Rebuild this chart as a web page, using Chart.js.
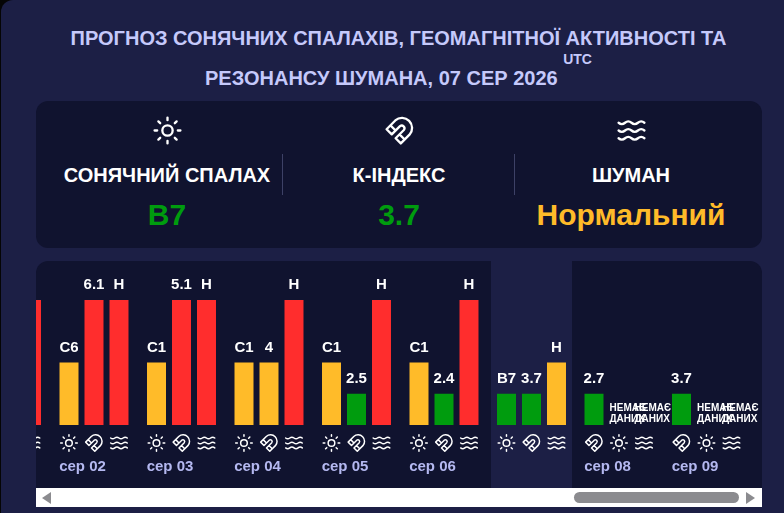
<!DOCTYPE html>
<html>
<head>
<meta charset="utf-8">
<script src="https://cdn.jsdelivr.net/npm/chart.js@4/dist/chart.umd.min.js"></script>
<style>
    html, body { margin: 0; padding: 0; background: #050505; }
    body { width: 784px; height: 513px; overflow: hidden; font-family: "Liberation Sans", Arial, sans-serif; }
    .card { position: absolute; left: 1px; top: 0; width: 783px; height: 513px; background: #1c1f45; border-radius: 12px 0 0 0; }
    .title { position: absolute; left: -1px; top: 18px; width: 797px; text-align: center; color: #c5c9fb; font-size: 20px; font-weight: bold; line-height: 40px; }
    .utc { position: relative; top: -21px; font-size: 14px; line-height: 0; }
    .summary { position: absolute; left: 35px; top: 101px; width: 726px; height: 147px; background: #10132f; border-radius: 12px; }
    .col { position: absolute; top: 0; width: 232px; text-align: center; }
    .col svg { position: absolute; left: 100.5px; top: 13.5px; }
    .col .name { position: absolute; left: 0; width: 100%; top: 63px; color: #fff; font-size: 20px; font-weight: bold; }
    .col .value { position: absolute; left: 0; width: 100%; top: 97px; font-size: 30px; font-weight: bold; }
    .sep { position: absolute; top: 53px; width: 1px; height: 41px; background: #3d4166; }
    .panel { position: absolute; left: 35px; top: 261px; width: 726px; height: 227px; background: #10132f; border-radius: 12px 12px 0 0; overflow: hidden; }
    canvas { position: absolute; left: -74px; top: 0; }
    .track { position: absolute; left: 35px; top: 488px; width: 726px; height: 19px; background: #fff; }
    .thumb { position: absolute; left: 538px; top: 4px; width: 165px; height: 11px; background: #8b8b8f; border-radius: 6px; }
    .arrow { position: absolute; top: 4px; width: 0; height: 0; border-top: 6px solid transparent; border-bottom: 6px solid transparent; }
    .arrow.l { left: 6px; border-right: 9px solid #8b8b8f; }
    .arrow.r { left: 710px; border-left: 9px solid #8b8b8f; }
</style>
</head>
<body>
<div class="card">
    <div class="title">ПРОГНОЗ СОНЯЧНИХ СПАЛАХІВ, ГЕОМАГНІТНОЇ АКТИВНОСТІ ТА<br>РЕЗОНАНСУ ШУМАНА, 07 СЕР 2026 <span class="utc">UTC</span></div>
    <div class="summary">
        <div class="col" style="left:15px"><span id="iconSun"></span><div class="name">СОНЯЧНИЙ СПАЛАХ</div><div class="value" style="color:#009c0e">B7</div></div>
        <div class="sep" style="left:246px"></div>
        <div class="col" style="left:247px"><span id="iconMagnet"></span><div class="name">К-ІНДЕКС</div><div class="value" style="color:#009c0e">3.7</div></div>
        <div class="sep" style="left:478px"></div>
        <div class="col" style="left:479px"><span id="iconWaves"></span><div class="name">ШУМАН</div><div class="value" style="color:#ffbb29">Нормальний</div></div>
    </div>
    <div class="panel"><canvas id="forecast" width="800" height="227"></canvas></div>
    <div class="track">
        <div class="arrow l"></div>
        <div class="thumb"></div>
        <div class="arrow r"></div>
    </div>
</div>
<script>
const days = ['сер 01', 'сер 02', 'сер 03', 'сер 04', 'сер 05', 'сер 06', 'сер 07', 'сер 08', 'сер 09'];
const today = 'сер 07';

// bar height is the level: 1 green, 2 yellow, 4 red
const firstLevels = [2, 2, 2, 2, 2, 2, 1, 1, 1];
const secondLevels = [4, 4, 4, 2, 1, 1, 1, null, null];
const thirdLevels = [4, 4, 4, 4, 4, 4, 2, null, null];

const firstLabels = ['C1', 'C6', 'C1', 'C1', 'C1', 'C1', 'B7', '2.7', '3.7'];
const secondLabels = ['5.1', '6.1', '5.1', '4', '2.5', '2.4', '3.7', 'НЕМАЄ ДАНИХ', 'НЕМАЄ ДАНИХ'];
const thirdLabels = ['Н', 'Н', 'Н', 'Н', 'Н', 'Н', 'Н', 'НЕМАЄ ДАНИХ', 'НЕМАЄ ДАНИХ'];

const firstIcons = ['sun', 'sun', 'sun', 'sun', 'sun', 'sun', 'sun', 'magnet', 'magnet'];
const secondIcons = ['magnet', 'magnet', 'magnet', 'magnet', 'magnet', 'magnet', 'magnet', 'sun', 'sun'];
const thirdIcons = ['waves', 'waves', 'waves', 'waves', 'waves', 'waves', 'waves', 'waves', 'waves'];

const levelColors = { 1: '#009c0e', 2: '#ffbb29', 4: '#ff2d2d' };

const iconPaths = {
    sun: 'M16 12a4 4 0 1 1-8 0a4 4 0 1 1 8 0M12 2v2M12 20v2M4.93 4.93l1.41 1.41M17.66 17.66l1.41 1.41M2 12h2M20 12h2M6.34 17.66l-1.41 1.41M19.07 4.93l-1.41 1.41',
    magnet: 'm6 15-4-4 6.75-6.77a7.79 7.79 0 0 1 11 11L13 22l-4-4 6.39-6.36a2.14 2.14 0 0 0-3-3L6 15m-1-7 4 4m3 3 4 4',
    waves: 'M2 6c.6.5 1.2 1 2.5 1C7 7 7 5 9.5 5c2.6 0 2.4 2 5 2 2.5 0 2.5-2 5-2 1.3 0 1.9.5 2.5 1M2 12c.6.5 1.2 1 2.5 1 2.5 0 2.5-2 5-2 2.6 0 2.4 2 5 2 2.5 0 2.5-2 5-2 1.3 0 1.9.5 2.5 1M2 18c.6.5 1.2 1 2.5 1 2.5 0 2.5-2 5-2 2.6 0 2.4 2 5 2 2.5 0 2.5-2 5-2 1.3 0 1.9.5 2.5 1'
};

function headerIcon(id, name) {
    document.getElementById(id).innerHTML = '<svg width="31" height="31" viewBox="0 0 24 24" fill="none" stroke="#fff" stroke-width="1.8" stroke-linecap="round" stroke-linejoin="round"><path d="' + iconPaths[name] + '"/></svg>';
}
headerIcon('iconSun', 'sun');
headerIcon('iconMagnet', 'magnet');
headerIcon('iconWaves', 'waves');

const slotLabels = [firstLabels, secondLabels, thirdLabels];
const slotIcons = [firstIcons, secondIcons, thirdIcons];

// the lighter column behind today
const todayColumn = {
    id: 'todayColumn',
    beforeDatasetsDraw(chart) {
        const x = chart.scales.x.getPixelForValue(days.indexOf(today));
        const ctx = chart.ctx;
        ctx.save();
        ctx.fillStyle = '#1c1f45';
        ctx.fillRect(x - 40.5, 0, 81, chart.height);
        ctx.restore();
    }
};

// value labels above the bars and the icons under them
const barDecor = {
    id: 'barDecor',
    afterDatasetsDraw(chart) {
        const ctx = chart.ctx;
        const base = chart.scales.y.getPixelForValue(0);
        ctx.save();
        chart.data.datasets.forEach((ds, s) => {
            chart.getDatasetMeta(s).data.forEach((bar, i) => {
                const label = slotLabels[s][i];
                ctx.fillStyle = '#fff';
                if (ds.data[i] === null) {
                    // empty slot: no bar, two small lines from the bar's left edge
                    const left = bar.x - 9.5;
                    ctx.font = 'bold 10px "Liberation Sans", Arial';
                    ctx.textAlign = 'left';
                    ctx.textBaseline = 'middle';
                    const words = label.split(' ');
                    ctx.fillText(words[0], left, base - 17);
                    ctx.fillText(words[1], left, base - 6);
                } else {
                    ctx.font = 'bold 15px "Liberation Sans", Arial';
                    ctx.textAlign = 'center';
                    ctx.textBaseline = 'middle';
                    ctx.fillText(label, bar.x, bar.y - 15);
                }
                ctx.save();
                ctx.translate(bar.x - 10, base + 8);
                ctx.scale(0.83, 0.83);
                ctx.strokeStyle = '#fff';
                ctx.lineWidth = 1.8;
                ctx.lineCap = 'round';
                ctx.lineJoin = 'round';
                ctx.stroke(new Path2D(iconPaths[slotIcons[s][i]]));
                ctx.restore();
            });
        });
        ctx.restore();
    }
};

function slotDataset(levels) {
    return {
        data: levels,
        backgroundColor: levels.map(l => levelColors[l]),
        categoryPercentage: 0.857,
        barPercentage: 0.76
    };
}

new Chart(document.getElementById('forecast'), {
    type: 'bar',
    data: {
        labels: days,
        datasets: [slotDataset(firstLevels), slotDataset(secondLevels), slotDataset(thirdLevels)]
    },
    plugins: [todayColumn, barDecor],
    options: {
        responsive: false,
        animation: false,
        devicePixelRatio: 1,
        layout: { padding: { left: 0.75, right: 11.75, top: 39, bottom: 0 } },
        plugins: { legend: { display: false }, tooltip: { enabled: false } },
        scales: {
            x: {
                border: { display: false },
                // transparent ticks only push the day labels below the icons
                grid: { drawOnChartArea: false, tickLength: 25, tickColor: 'transparent' },
                afterFit(scale) { scale.height = 63; },
                ticks: {
                    color: '#b4b8f0',
                    font: { family: '"Liberation Sans", Arial', size: 15, weight: 'bold' },
                    labelOffset: -11.5,
                    padding: 8,
                    autoSkip: false,
                    maxRotation: 0
                }
            },
            y: { display: false, min: 0, max: 4 }
        }
    }
});
</script>
</body>
</html>
